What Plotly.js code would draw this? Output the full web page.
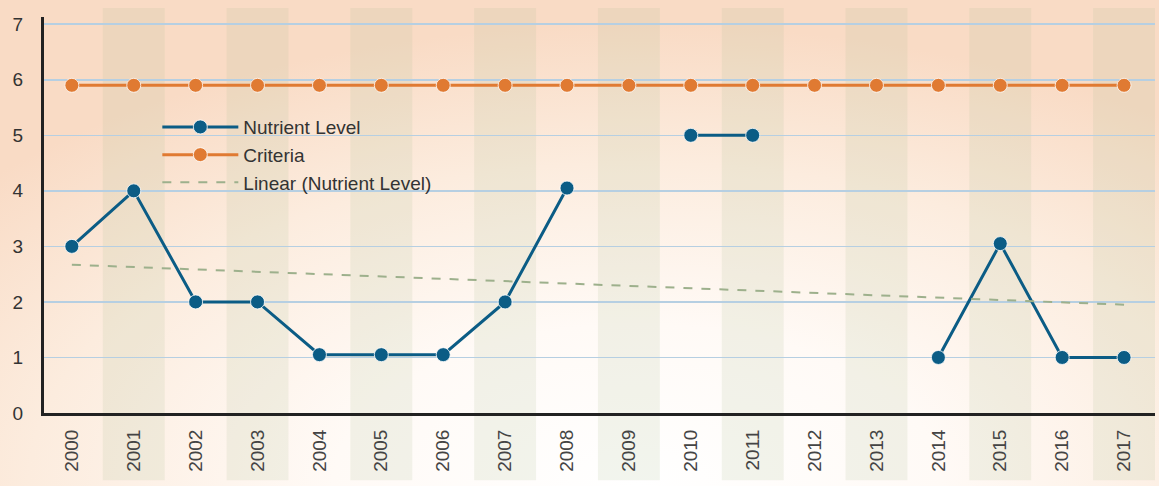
<!DOCTYPE html>
<html><head><meta charset="utf-8">
<script src="https://cdn.plot.ly/plotly-3.0.1.min.js"></script>
<style>
html,body{margin:0;padding:0;}
body{width:1159px;height:486px;overflow:hidden;
background: radial-gradient(ellipse 75% 95% at 55% 100%, #ffffff 0%, #fffaf6 35%, #fcecde 70%, #f9dbc5 100%);}
#chart{width:1159px;height:486px;}
</style></head>
<body><div id="chart"></div>
<script>
const years = ["2000","2001","2002","2003","2004","2005","2006","2007","2008","2009","2010","2011","2012","2013","2014","2015","2016","2017"];
const nutrientLevel = [3, 4, 2, 2, 1.05, 1.05, 1.05, 2, 4.05, null, 5, 5, null, null, 1, 3.05, 1, 1];
const criteria = [5.9,5.9,5.9,5.9,5.9,5.9,5.9,5.9,5.9,5.9,5.9,5.9,5.9,5.9,5.9,5.9,5.9,5.9];
const trendYears = ["2000","2017"];
const trendValues = [2.67, 1.95];
const yTicks = [0,1,2,3,4,5,6,7];

const shapes = [];
years.forEach((y,i)=>{
  if(i%2===1){
    shapes.push({type:'rect', xref:'x', yref:'paper', x0:i-0.5, x1:i+0.5, y0:-0.17, y1:1.023,
      fillcolor:'rgba(175,195,150,0.16)', line:{width:0}, layer:'below'});
  }
});

const traces = [
  {x: years, y: nutrientLevel, name:'Nutrient Level', type:'scatter', mode:'lines+markers',
   connectgaps:false,
   line:{color:'#0b5c85', width:3}, marker:{color:'#0b5c85', size:14, line:{color:'rgba(255,255,255,0.8)', width:1}}},
  {x: years, y: criteria, name:'Criteria', type:'scatter', mode:'lines+markers',
   line:{color:'#e07a32', width:3}, marker:{color:'#e07a32', size:14, line:{color:'rgba(255,255,255,0.8)', width:1}}},
  {x: trendYears, y: trendValues, name:'Linear (Nutrient Level)', type:'scatter', mode:'lines',
   line:{color:'#9db08c', width:2, dash:'dash'}}
];

const layout = {
  width:1159, height:486,
  margin:{l:44, r:4, t:17, b:73},
  paper_bgcolor:'rgba(0,0,0,0)', plot_bgcolor:'rgba(0,0,0,0)',
  font:{family:'Liberation Sans, Arial, sans-serif', color:'#333', size:18},
  showlegend:true,
  legend:{x:0.102, y:0.77, xanchor:'left', yanchor:'top', bgcolor:'rgba(0,0,0,0)',
    font:{size:19, color:'#333'}, tracegroupgap:0, itemwidth:76},
  xaxis:{type:'category', range:[-0.45,17.5], tickangle:-90, showgrid:false,
    showline:true, linecolor:'#222', linewidth:3, ticks:'', tickfont:{size:19, color:'#444'},
    zeroline:false, fixedrange:true, ticklabelstandoff:6},
  yaxis:{range:[0,7.13], tickvals:yTicks, showgrid:true, gridcolor:'#b6cfe2', gridwidth:1.5,
    showline:true, linecolor:'#222', linewidth:3, ticks:'', tickfont:{size:19, color:'#333'},
    zeroline:false, ticklabelstandoff:14, fixedrange:true},
  shapes: shapes
};
Plotly.newPlot('chart', traces, layout, {displayModeBar:false, staticPlot:true});
</script></body></html>
